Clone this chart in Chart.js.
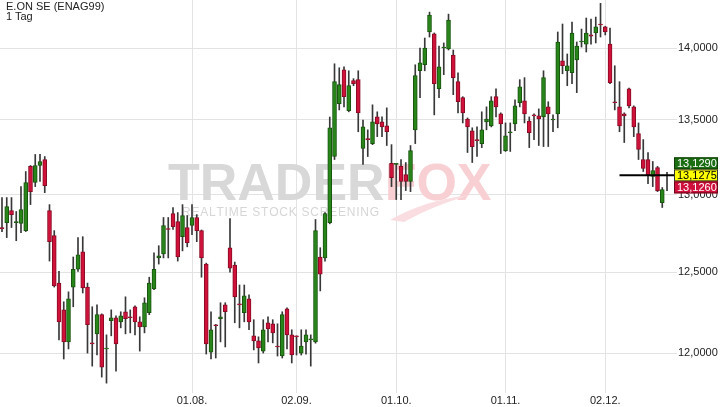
<!DOCTYPE html>
<html>
<head>
<meta charset="utf-8">
<script src="https://cdn.jsdelivr.net/npm/chart.js@4.4.0/dist/chart.umd.min.js"></script>
<style>
html, body { margin: 0; padding: 0; background: #fff; }
#wrap { position: relative; width: 720px; height: 407px; }
#title { position: absolute; left: 6px; top: 1px; font: 11px "Liberation Sans", Arial, sans-serif; color: #222; line-height: 10px; }
</style>
</head>
<body>
<div id="wrap">
  <canvas id="chart" width="720" height="407"></canvas>
  <div id="title">E.ON SE (ENAG99)<br>1 Tag</div>
</div>
<script>
// daily candles, 06.06. - 19.12.
var opens = [
  12.786, 12.818, 12.896, 12.818, 12.812, 12.766, 13.187, 13.080, 13.193, 13.233,
  12.896, 12.734, 12.432, 12.265, 12.068, 12.407, 12.519, 12.630, 12.407, 12.062,
  12.117, 12.235, 12.025, 12.198, 12.216, 12.191, 12.253, 12.222, 12.284, 12.191,
  12.160, 12.247, 12.395, 12.591, 12.617, 12.779, 12.877, 12.825, 12.727, 12.786,
  12.799, 12.851, 12.766, 12.552, 12.006, 12.173, 12.210, 12.296, 12.656, 12.545,
  12.302, 12.247, 12.333, 12.105, 12.074, 12.012, 12.185, 12.179, 12.043, 11.982,
  12.272, 12.111, 12.105, 12.000, 12.068, 12.080, 12.068, 12.597, 12.591, 12.818,
  13.253, 13.611, 13.847, 13.563, 13.771, 13.778, 13.307, 13.373, 13.340, 13.521,
  13.487, 13.460, 13.207, 13.200, 13.187, 13.133, 13.087, 13.433, 13.840, 13.882,
  14.114, 14.100, 13.715, 14.000, 13.993, 13.951, 13.764, 13.653, 13.507, 13.427,
  13.367, 13.340, 13.487, 13.460, 13.660, 13.542, 13.293, 13.413, 13.473, 13.618,
  13.632, 13.493, 13.535, 13.528, 13.521, 13.590, 13.500, 13.542, 13.910, 13.840,
  13.826, 13.917, 14.043, 14.028, 14.093, 14.107, 14.171, 14.150, 14.028, 13.625,
  13.590, 13.542, 13.715, 13.590, 13.407, 13.233, 13.233, 13.120, 13.180, 12.948,
  13.125
];
var highs = [
  12.981, 12.981, 12.981, 12.890, 13.053, 13.153, 13.193, 13.267, 13.267, 13.253,
  12.935, 12.766, 12.506, 12.315, 12.377, 12.597, 12.721, 12.727, 12.432, 12.284,
  12.296, 12.240, 12.111, 12.265, 12.228, 12.253, 12.346, 12.265, 12.290, 12.222,
  12.340, 12.469, 12.623, 12.669, 12.851, 12.851, 12.916, 12.883, 12.935, 12.864,
  12.935, 12.870, 12.770, 12.558, 12.253, 12.175, 12.309, 12.309, 12.844, 12.565,
  12.420, 12.420, 12.358, 12.204, 12.099, 12.204, 12.222, 12.204, 12.179, 12.253,
  12.278, 12.142, 12.105, 12.142, 12.142, 12.111, 12.838, 12.656, 12.883, 13.520,
  13.889, 13.861, 13.868, 13.840, 13.785, 13.840, 13.500, 13.433, 13.604, 13.556,
  13.521, 13.583, 13.333, 13.207, 13.233, 13.213, 13.327, 13.882, 14.000, 14.071,
  14.256, 14.107, 14.014, 14.036, 14.242, 13.986, 13.826, 13.660, 13.514, 13.447,
  13.453, 13.556, 13.590, 13.660, 13.715, 13.549, 13.480, 13.480, 13.639, 13.778,
  13.792, 13.521, 13.542, 13.576, 13.840, 13.625, 13.535, 14.114, 14.171, 13.958,
  14.185, 14.043, 14.135, 14.214, 14.206, 14.221, 14.320, 14.155, 14.142, 13.875,
  13.764, 13.549, 13.720, 13.597, 13.480, 13.367, 13.280, 13.220, 13.187, 13.047,
  13.147
];
var lows = [
  12.760, 12.721, 12.786, 12.701, 12.753, 12.760, 12.935, 13.053, 13.087, 13.013,
  12.571, 12.407, 12.080, 11.964, 12.025, 12.284, 12.506, 12.370, 12.000, 11.921,
  11.988, 11.855, 11.819, 12.105, 11.891, 12.154, 12.117, 12.123, 12.111, 12.012,
  12.123, 12.235, 12.390, 12.552, 12.591, 12.591, 12.773, 12.571, 12.636, 12.662,
  12.740, 12.695, 12.469, 11.994, 11.964, 11.970, 12.068, 12.037, 12.500, 12.185,
  12.154, 12.191, 12.142, 12.019, 11.940, 12.000, 12.068, 12.062, 11.982, 11.970,
  12.025, 11.940, 11.988, 11.988, 11.994, 11.921, 12.060, 12.383, 12.571, 12.810,
  13.233, 13.569, 13.590, 13.556, 13.736, 13.420, 13.200, 13.253, 13.333, 13.387,
  13.387, 13.327, 13.053, 12.968, 12.968, 13.027, 13.020, 13.340, 13.653, 13.840,
  14.078, 13.535, 13.653, 13.813, 13.986, 13.674, 13.549, 13.480, 13.280, 13.213,
  13.253, 13.313, 13.433, 13.453, 13.521, 13.273, 13.287, 13.287, 13.427, 13.590,
  13.480, 13.313, 13.367, 13.327, 13.320, 13.320, 13.420, 13.447, 13.819, 13.736,
  13.750, 13.688, 14.007, 13.972, 14.028, 14.036, 14.078, 14.093, 13.750, 13.569,
  13.420, 13.347, 13.583, 13.387, 13.233, 13.153, 13.073, 13.053, 13.020, 12.916,
  13.027
];
var closes = [
  12.779, 12.922, 12.870, 12.825, 12.903, 13.080, 13.020, 13.193, 13.220, 13.060,
  12.695, 12.414, 12.191, 12.068, 12.333, 12.519, 12.610, 12.401, 12.173, 12.056,
  12.235, 11.915, 12.031, 12.216, 12.056, 12.228, 12.210, 12.216, 12.191, 12.160,
  12.309, 12.432, 12.519, 12.604, 12.799, 12.773, 12.792, 12.597, 12.864, 12.688,
  12.851, 12.766, 12.591, 12.056, 12.142, 12.167, 12.222, 12.253, 12.526, 12.346,
  12.296, 12.352, 12.191, 12.074, 12.031, 12.142, 12.148, 12.123, 12.037, 12.235,
  12.111, 11.988, 12.099, 12.043, 12.111, 12.086, 12.766, 12.488, 12.877, 13.447,
  13.764, 13.743, 13.660, 13.736, 13.750, 13.549, 13.453, 13.367, 13.487, 13.473,
  13.453, 13.420, 13.113, 13.207, 13.087, 13.087, 13.293, 13.806, 13.896, 14.000,
  14.235, 13.750, 13.868, 14.007, 14.199, 13.792, 13.625, 13.549, 13.453, 13.320,
  13.360, 13.433, 13.507, 13.632, 13.590, 13.473, 13.393, 13.420, 13.597, 13.729,
  13.542, 13.413, 13.528, 13.507, 13.792, 13.542, 13.507, 14.043, 13.875, 13.875,
  14.107, 14.014, 14.050, 14.107, 14.085, 14.150, 14.164, 14.114, 13.757, 13.618,
  13.460, 13.528, 13.597, 13.453, 13.300, 13.173, 13.127, 13.160, 13.027, 13.033,
  13.1275
];

// x axis: candle index of first trading day in each month
var tickIndex = [40, 62, 83, 106, 127];
var tickLabels = ["01.08.", "02.09.", "01.10.", "01.11.", "02.12."];
var priceTicks = [12, 12.5, 13, 13.5, 14];

var quoteAsk = 13.1290;
var quoteLast = 13.1275;
var quoteBid = 13.1260;

var FONT = '"Liberation Sans", Arial, sans-serif';
var upFill = '#288519', upLine = '#18540e';
var downFill = '#d0123a', downLine = '#8a0a24';

var bodies = [], wicks = [], fills = [], lines = [];
for (var i = 0; i < opens.length; i++) {
    bodies.push({ x: i, y: [opens[i], closes[i]] });
    wicks.push({ x: i, y: [lows[i], highs[i]] });
    var up = closes[i] >= opens[i];
    fills.push(up ? upFill : downFill);
    lines.push(up ? upLine : downLine);
}

function fmt(v) {
    return v.toFixed(4).replace('.', ',');
}

var watermark = {
    id: 'watermark',
    beforeDatasetsDraw: function (chart) {
        var ctx = chart.ctx;
        ctx.save();
        ctx.font = 'bold 52px ' + FONT;
        ctx.textBaseline = 'alphabetic';
        ctx.fillStyle = '#d8d8d8';
        ctx.fillText('TRADER', 168, 200);
        var w = ctx.measureText('TRADER').width;
        ctx.fillStyle = '#f8d0d4';
        ctx.fillText('FOX', 168 + w, 200);

        // fox tail
        ctx.fillStyle = '#fadde0';
        ctx.beginPath();
        ctx.moveTo(390, 220);
        ctx.quadraticCurveTo(425, 200, 470, 195);
        ctx.quadraticCurveTo(432, 206, 404, 222);
        ctx.closePath();
        ctx.fill();

        // subtitle with spread letters
        var sub = 'REALTIME STOCK SCREENING';
        ctx.font = '12px ' + FONT;
        ctx.fillStyle = '#d6d6d6';
        var plain = ctx.measureText(sub).width;
        var gap = (196 - plain) / (sub.length - 1);
        var x = 182;
        for (var k = 0; k < sub.length; k++) {
            ctx.fillText(sub[k], x, 216);
            x += ctx.measureText(sub[k]).width + gap;
        }
        ctx.restore();
    }
};

var quotes = {
    id: 'quotes',
    afterDraw: function (chart) {
        var ctx = chart.ctx;
        var area = chart.chartArea;
        var xs = chart.scales.x, ys = chart.scales.y;
        var yl = ys.getPixelForValue(quoteLast);

        ctx.save();
        ctx.strokeStyle = '#000';
        ctx.lineWidth = 2;
        ctx.beginPath();
        ctx.moveTo(xs.getPixelForValue(opens.length - 11), yl);
        ctx.lineTo(area.right, yl);
        ctx.stroke();

        var boxes = [
            { v: quoteAsk, top: yl - 18, bg: '#1c6e12', edge: '#0e3d08', fg: '#fff' },
            { v: quoteLast, top: yl - 6, bg: '#ffff00', edge: '#333', fg: '#000' },
            { v: quoteBid, top: yl + 6, bg: '#d0103c', edge: '#6a0718', fg: '#fff' }
        ];
        var x0 = area.right, w = 44, h = 12;
        ctx.font = '11px ' + FONT;
        ctx.textBaseline = 'middle';
        ctx.textAlign = 'left';
        boxes.forEach(function (b) {
            ctx.fillStyle = b.bg;
            ctx.fillRect(x0, b.top, w, h);
            ctx.strokeStyle = b.edge;
            ctx.lineWidth = 1;
            ctx.strokeRect(x0 + 0.5, b.top + 0.5, w - 1, h - 1);
            ctx.fillStyle = b.fg;
            ctx.fillText(fmt(b.v), x0 + 3, b.top + h / 2 + 0.5);
        });
        ctx.restore();
    }
};

new Chart(document.getElementById('chart'), {
    type: 'bar',
    data: {
        datasets: [{
            data: wicks,
            backgroundColor: '#383838',
            borderWidth: 0,
            barThickness: 1,
            grouped: false,
            order: 2
        }, {
            data: bodies,
            backgroundColor: fills,
            borderColor: lines,
            borderWidth: 1,
            borderSkipped: false,
            barThickness: 4,
            grouped: false,
            order: 1
        }]
    },
    options: {
        responsive: false,
        animation: false,
        devicePixelRatio: 1,
        layout: { padding: 0 },
        plugins: {
            legend: { display: false },
            tooltip: { enabled: false },
            title: { display: false }
        },
        scales: {
            x: {
                type: 'linear',
                min: -0.42,
                max: opens.length + 0.47,
                offset: false,
                afterBuildTicks: function (s) {
                    s.ticks = tickIndex.map(function (v) { return { value: v }; });
                },
                afterFit: function (s) {
                    s.height = 19;
                    s.paddingLeft = 0;
                    s.paddingRight = 0;
                },
                ticks: {
                    autoSkip: false,
                    maxRotation: 0,
                    padding: 1,
                    color: '#222',
                    font: { size: 11, family: FONT },
                    callback: function (v) {
                        var k = tickIndex.indexOf(v);
                        return k < 0 ? '' : tickLabels[k];
                    }
                },
                grid: { color: '#e3e3e3', tickLength: 5, offset: false },
                border: { display: false }
            },
            y: {
                type: 'logarithmic',
                position: 'right',
                min: 11.79,
                max: 14.344,
                afterBuildTicks: function (s) {
                    s.ticks = priceTicks.map(function (v) { return { value: v }; });
                },
                afterFit: function (s) {
                    s.width = 46;
                    s.paddingTop = 0;
                    s.paddingBottom = 0;
                },
                ticks: {
                    padding: 1,
                    color: '#222',
                    font: { size: 11, family: FONT },
                    callback: function (v) { return fmt(v); }
                },
                grid: { color: '#e3e3e3', tickLength: 3 },
                border: { display: false }
            }
        }
    },
    plugins: [watermark, quotes]
});
</script>
</body>
</html>
